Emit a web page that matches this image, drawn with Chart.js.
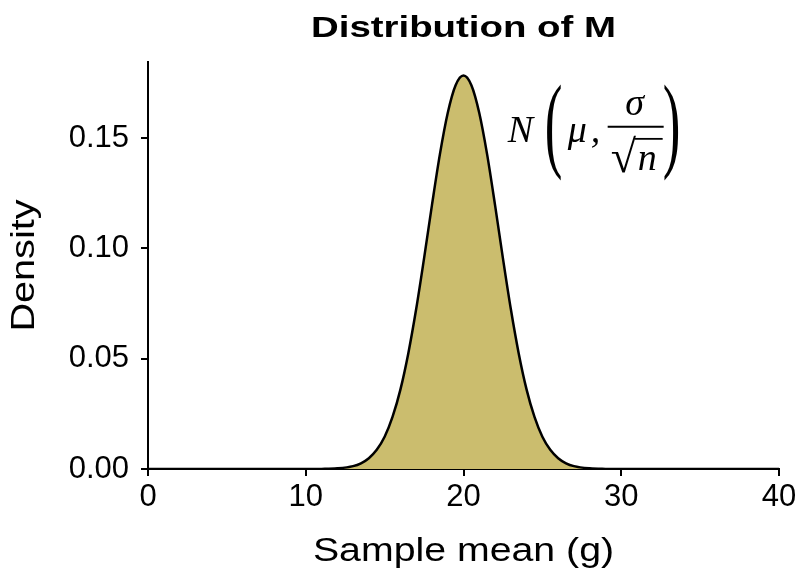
<!DOCTYPE html>
<html><head><meta charset="utf-8">
<script src="https://cdn.jsdelivr.net/npm/chart.js@4.4.0/dist/chart.umd.min.js"></script>
<style>html,body{margin:0;padding:0;background:#fff}#wrap{width:800px;height:577px}</style>
</head><body><div id="wrap"><canvas id="c" width="800" height="577"></canvas></div>
<script>
// Values
const sampleMean = [0, 2, 4, 6, 8, 10, 11, 12, 13, 13.5, 14, 14.5, 15, 15.5, 16, 16.5, 17, 17.5, 18, 18.5, 19, 19.5, 20,
  20.5, 21, 21.5, 22, 22.5, 23, 23.5, 24, 24.5, 25, 25.5, 26, 26.5, 27, 28, 29, 30, 32, 34, 36, 38, 40];
const density = [0, 0, 0, 0, 0, 0, 0.00005, 0.0003, 0.0013, 0.0026, 0.0049, 0.0087, 0.0146, 0.0236, 0.0360, 0.0524, 0.0725, 0.0955, 0.1196, 0.1425, 0.1614, 0.1740, 0.1784,
  0.1740, 0.1614, 0.1425, 0.1196, 0.0955, 0.0725, 0.0524, 0.0360, 0.0236, 0.0146, 0.0087, 0.0049, 0.0026, 0.0013, 0.0003, 0.00005, 0, 0, 0, 0, 0, 0];
const xTicks = [0, 10, 20, 30, 40];
const yTicks = [0, 0.05, 0.10, 0.15];
const titleText = 'Distribution of M';
const xTitle = 'Sample mean (g)';
const yTitle = 'Density';

const points = sampleMean.map((x, i) => ({x: x, y: density[i]}));
const SANS = '"Liberation Sans", Arial, Helvetica, sans-serif';
const SERIF = '"Liberation Serif", "Times New Roman", serif';

// widen the Helvetica-like texts so they match the reference proportions
const widenPlugin = {
  id: 'widen',
  beforeDraw(chart) {
    const ctx = chart.ctx;
    const wrap = (obj, method, fn) => {
      if (!obj || obj['_wrapped_' + method]) return;
      const orig = obj[method];
      obj[method] = function (...args) {
        ctx.save(); fn(this); const r = orig.apply(this, args); ctx.restore(); return r;
      };
      obj['_wrapped_' + method] = true;
    };
    wrap(chart.titleBlock, 'draw', () => {
      const ca = chart.chartArea; const cx = (ca.left + ca.right) / 2;
      ctx.translate(cx, 0); ctx.scale(1.28, 1); ctx.translate(-cx, 0);
    });
    wrap(chart.scales.x, 'drawTitle', (s) => {
      const cx = (s.left + s.right) / 2;
      ctx.translate(cx, 0); ctx.scale(1.19, 1); ctx.translate(-cx, 0);
    });
    wrap(chart.scales.y, 'drawTitle', (s) => {
      const cy = (s.top + s.bottom) / 2;
      ctx.translate(0, cy); ctx.scale(1, 1.2); ctx.translate(0, -cy);
    });
  }
};

const formulaPlugin = {
  id: 'formula',
  afterDraw(chart) {
    const ctx = chart.ctx;
    const xs = chart.scales.x, ys = chart.scales.y;
    const ax = xs.getPixelForValue(22.8);
    const ay = ys.getPixelForValue(0.1483);
    ctx.save();
    ctx.fillStyle = '#000';
    ctx.strokeStyle = '#000';
    ctx.textBaseline = 'alphabetic';
    ctx.textAlign = 'left';
    ctx.font = 'italic 38px ' + SERIF;
    ctx.fillText('N', ax, ay);
    ctx.fillText('\u03BC', ax + 60, ay);
    ctx.fillText(',', ax + 83, ay);
    ctx.fillText('n', ax + 130, ay + 28);
    ctx.textAlign = 'center';
    ctx.fillText('\u03C3', ax + 127, ay - 27);
    ctx.textAlign = 'left';
    ctx.font = '46px ' + SERIF;
    ctx.fillText('\u221A', ax + 103, ay + 30);
    ctx.lineWidth = 2;
    ctx.beginPath();
    ctx.moveTo(ax + 100, ay - 15); ctx.lineTo(ax + 156, ay - 15);
    ctx.stroke();
    ctx.lineWidth = 1.8;
    ctx.beginPath();
    ctx.moveTo(ax + 127, ay - 3); ctx.lineTo(ax + 155, ay - 3);
    ctx.stroke();
    // big parentheses
    ctx.font = '106px ' + SERIF;
    ctx.save();
    ctx.translate(ax + 37, ay + 16);
    ctx.scale(0.5, 1);
    ctx.fillText('(', 0, 0);
    ctx.restore();
    ctx.save();
    ctx.translate(ax + 155, ay + 16);
    ctx.scale(0.5, 1);
    ctx.fillText(')', 0, 0);
    ctx.restore();
    ctx.restore();
  }
};

new Chart(document.getElementById('c'), {
  type: 'line',
  data: {
    datasets: [{
      data: points,
      borderColor: '#000000',
      borderWidth: 2.5,
      backgroundColor: '#CBBD6E',
      fill: 'origin',
      pointRadius: 0,
      cubicInterpolationMode: 'monotone'
    }]
  },
  options: {
    responsive: false,
    animation: false,
    layout: {padding: {left: 0, right: 21, top: 0, bottom: 0}},
    plugins: {
      legend: {display: false},
      tooltip: {enabled: false},
      title: {
        display: true,
        fullSize: false,
        text: titleText,
        color: '#000',
        font: {family: SANS, size: 30, weight: 'bold'},
        padding: {top: 11, bottom: 15}
      }
    },
    scales: {
      x: {
        type: 'linear',
        min: 0, max: 40,
        afterBuildTicks: s => { s.ticks = xTicks.map(v => ({value: v})); },
        ticks: {color: '#000', font: {family: SANS, size: 31}, padding: 3, maxRotation: 0},
        grid: {drawOnChartArea: false, drawTicks: true, tickLength: 7, color: '#000', lineWidth: 2},
        border: {display: true, color: '#000', width: 2},
        title: {display: true, text: xTitle, color: '#000', font: {family: SANS, size: 33}, padding: {top: 0, bottom: 5}},
        afterFit: s => { s.height = 108; }
      },
      y: {
        type: 'linear',
        min: 0, max: 0.1845,
        afterBuildTicks: s => { s.ticks = yTicks.map(v => ({value: v})); },
        ticks: {color: '#000', font: {family: SANS, size: 31}, padding: 12, callback: v => Number(v).toFixed(2)},
        grid: {drawOnChartArea: false, drawTicks: true, tickLength: 7, color: '#000', lineWidth: 2},
        border: {display: true, color: '#000', width: 2},
        title: {display: true, text: yTitle, color: '#000', font: {family: SANS, size: 33}, padding: {top: 5, bottom: 0}},
        afterFit: s => { s.width = 148; }
      }
    }
  },
  plugins: [widenPlugin, formulaPlugin]
});
</script>
</body></html>
